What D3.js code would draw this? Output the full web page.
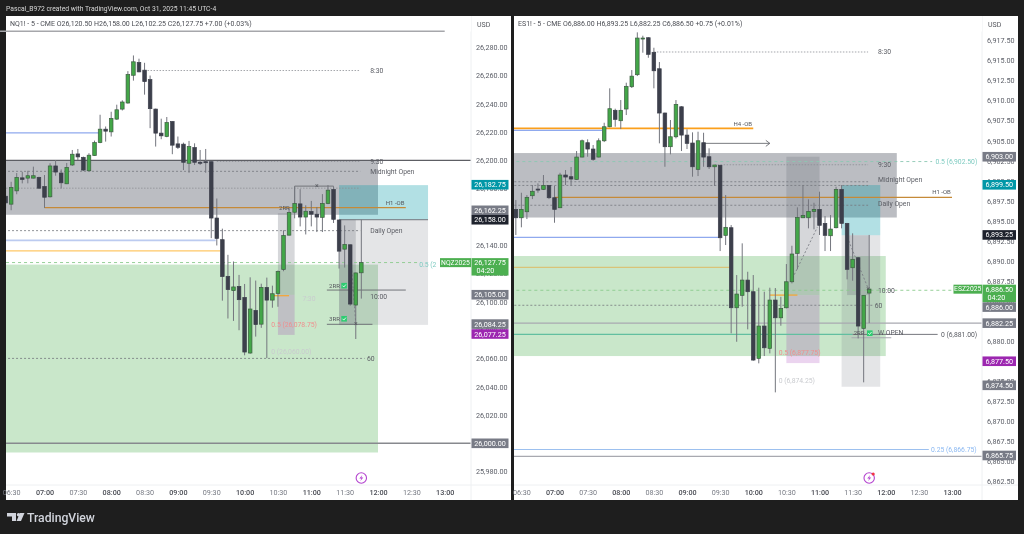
<!DOCTYPE html>
<html><head><meta charset="utf-8">
<script src="https://cdn.jsdelivr.net/npm/d3@7"></script>
<style>
html,body{margin:0;padding:0;background:#1e1e1e;overflow:hidden}
svg{display:block;filter:blur(.3px)}
text{font-family:Roboto,sans-serif}
</style></head><body>
<svg id="c" width="1024" height="534"></svg>
<script>
// ---------- data: NQ1! 5 minute candles, first bar 06:25 ----------
const nqOpen=[26174.6,26169,26178.4,26187.6,26187.4,26187.4,26187.9,26181.5,26174.2,26196,26191,26183.4,26196.7,26204.5,26202.1,26192.6,26203.3,26212.5,26222,26220.1,26229.1,26236.2,26240.5,26260.1,26269.1,26263.7,26257,26236.2,26219.2,26216.8,26227.4,26211.6,26211.4,26197.9,26209,26198.6,26199,26199,26159.2,26143.9,26118,26107.9,26110.9,26103.1,26063.8,26093.9,26084.2,26110.2,26101.2,26105.9,26122.8,26147.1,26163.3,26169.2,26159.9,26163.8,26161.9,26159.7,26169.5,26179.4,26157.8,26137.2,26140.3,26097.7,26120.5];
const nqHigh=[26178.9,26184.8,26191,26191.9,26192.6,26195.5,26188.4,26189.6,26197.9,26200.2,26193.6,26198.1,26207.3,26208,26202.6,26205,26213.9,26232.2,26223.9,26234.3,26239.3,26242.4,26263,26274.1,26271.8,26268.9,26259.9,26236.5,26229.4,26230.6,26227.6,26216.8,26212.5,26213.7,26212,26207.3,26208,26199.2,26173,26151.7,26133.2,26128.5,26119,26112.6,26117.3,26115,26112.8,26117.1,26111.4,26122.1,26150.5,26166.1,26181.2,26179.6,26168.2,26171.3,26167,26176.1,26182.5,26181.7,26158,26154,26140.5,26120.6,26158];
const nqLow=[26166.1,26164.7,26176,26183.7,26183.7,26187.2,26179.8,26166.3,26173.7,26189.1,26180.1,26183.2,26196,26200.2,26192.4,26192.4,26203.1,26212.1,26213.2,26216.8,26228.6,26235.2,26240,26256.3,26262.2,26246.4,26222.7,26209.7,26214.9,26216.3,26204.3,26208,26193.1,26191.2,26196.7,26196.7,26191.2,26145,26139.8,26100.8,26088.2,26086.5,26079.9,26062.2,26063.3,26075.4,26081.6,26060.2,26095.8,26096.5,26121.6,26146.9,26159,26153.3,26147.6,26153.3,26149.3,26149.3,26169,26155.7,26123.5,26124.2,26097.2,26073.7,26102.25];
const nqClose=[26169.9,26180.8,26187.9,26186.5,26189.1,26189.1,26180.3,26173.9,26196,26191.7,26184.1,26195,26204.3,26202.4,26193.1,26203.6,26212.5,26222,26220.6,26229.6,26235.7,26241.2,26260.6,26269.6,26262.5,26255.6,26236.5,26219.2,26217.3,26226.7,26210.7,26209.2,26198.6,26209.7,26198.6,26198.1,26198.6,26159.2,26144.8,26117.8,26108.6,26110.5,26101.5,26064.5,26094.9,26083.9,26110.2,26101.2,26105.7,26121.4,26146.9,26163.1,26169.5,26159.9,26164,26161.9,26159.9,26169.5,26178.9,26158.3,26135.8,26140.5,26098.4,26120.4,26127.75];

// ---------- data: ES1! 5 minute candles, first bar 06:25 ----------
const esOpen=[6896.44,6895.39,6896.14,6898.14,6898.97,6898.93,6899.43,6897.89,6896.64,6900.72,6900.51,6900.18,6902.96,6904.75,6903.96,6902.96,6904.99,6906.74,6908.79,6907.49,6908.95,6911.73,6913.23,6917.71,6917.84,6916.02,6913.97,6908.45,6904.25,6905.49,6909.23,6905.7,6904.71,6901.43,6904.75,6903,6901.75,6901.93,6893.2,6894.15,6884.17,6885.72,6887.62,6886.17,6877.86,6881.89,6879.11,6885.13,6882.92,6884.17,6887.41,6890.95,6895.39,6895.39,6896.19,6896.44,6894.69,6893.15,6894.15,6898.93,6894.69,6889.16,6890.41,6881.6,6886];
const esHigh=[6897.6,6898.51,6898.22,6899.47,6899.68,6900.72,6899.47,6899.38,6901,6901.34,6901.72,6903.71,6905.14,6905.17,6904.46,6905.29,6907.24,6911.53,6908.99,6910.07,6912.23,6913.81,6918.51,6918.09,6917.9,6916.59,6914.81,6908.5,6907.58,6910.07,6909.3,6906.42,6906.04,6906.12,6905.99,6904.05,6901.97,6902,6898.22,6894.48,6888.25,6892.2,6888.66,6888.25,6886.67,6886.17,6886.67,6886.63,6885.54,6889.62,6891.9,6896.69,6899.47,6897.69,6897.26,6898.64,6895.6,6895.73,6899.26,6899.47,6894.75,6893.45,6890.5,6885.75,6893.25];
const esLow=[6893.24,6894.2,6895.23,6897.72,6898.51,6898.85,6897.72,6894.77,6896.6,6899.47,6899.38,6900.14,6902.92,6903,6902.5,6902.92,6904.83,6906.67,6906.74,6906.45,6908.2,6911.57,6913.06,6915.97,6915.34,6911.53,6904.67,6901.75,6903.3,6905.29,6903.71,6903.96,6900.51,6900.59,6901.75,6901.47,6899.35,6891.24,6891.99,6880.98,6879.93,6884.3,6881.48,6877.56,6877.24,6878.15,6878.48,6873.62,6881.93,6884.09,6887.21,6888.96,6895.35,6894.07,6893.95,6893.24,6891.24,6891.24,6894.07,6894.07,6887.71,6887.54,6880.35,6874.87,6882.25];
const esClose=[6895.39,6896.44,6897.94,6898.69,6898.88,6899.43,6897.89,6896.44,6900.72,6900.47,6900.22,6902.96,6904.99,6903.96,6902.68,6904.99,6906.74,6908.99,6907.66,6908.79,6911.78,6913.05,6917.8,6917.8,6915.77,6913.72,6908.45,6904.25,6905.49,6909.53,6905.7,6904.67,6901.75,6904.99,6902.96,6901.75,6901.97,6892.9,6894.2,6884.17,6885.88,6887.62,6886.17,6877.65,6881.89,6879.18,6885.13,6882.92,6884.09,6887.41,6890.87,6895.44,6895.69,6896.19,6896.44,6894.45,6893.2,6893.98,6898.93,6894.69,6888.96,6890.21,6881.89,6885.72,6886.5];

// ---------- axes ----------
const timeTicks=[390,420,450,480,510,540,570,600,630,660,690,720,750,780];
const nqTicks=[26280,26260,26240,26220,26200,26180,26160,26140,26120,26100,26080,26060,26040,26020,26000,25980];
const esTicks=[6917.5,6915,6912.5,6910,6907.5,6905,6902.5,6900,6897.5,6895,6892.5,6890,6887.5,6885,6882.5,6880,6877.5,6875,6872.5,6870,6867.5,6865,6862.5];

// ---------- drawings: prices and minutes since midnight ----------
const nqZones=[
 [380,720,26200,26161.5,'grey'],[380,720,26126.3,25993.5,'green'],
 [630,645,26162.6,26105,'entry'],[630,645,26105,26076.6,'target'],
 [685,765,26182.45,26158,'blue'],[685,765,26158,26083.7,'light'],[685,700,26158,26083.7,'entry']];
const nqLines=[
 [26200,380,810,'dark'],[26263.45,510,704,'dot'],[26199.15,575,704,'dot'],
 [26192.2,380,704,'dash'],[26180.3,380,704,'dot'],[26150.3,380,704,'dash'],[26060,380,708,'dash'],
 [26000,380,810,'heavy'],[26219.4,380,470,'blue'],[26143.4,380,574,'bluewide'],[26136,380,578,'amber'],
 [26166.6,420,745,'ob'],[26127.75,380,757,'now'],[26104.3,625,640,'orange'],
 [26108.3,674,745,'thin'],[26084.1,674,715,'thin'],[26158,685,765,'thin']];
const nqPaths=[
 [[[645,26169],[645,26181.75],[680,26181.75]],'solid'],
 [[[695,26136.3],[700,26084.8]],'diag']];
const nqCrosses=[[665,26181.75],[700,26084.8]];
const nqLabels=[
 ['8:30',713,26263.45,'ink'],['9:30',713,26199.15,'ink'],['Midnight Open',713,26192.2,'ink'],['Daily Open',713,26150.3,'ink'],
 ['10:00',713,26103.6,'ink'],['60',710,26060,'ink'],['H1 -OB',727,26169.7,'small'],['2RR',631,26166,'small'],
 ['2RR',676,26111.4,'small'],['3RR',676,26088,'small'],['0.5 (26,078.75)',624,26083.7,'red'],
 ['0 (26,060.00)',624,26064.5,'pale'],['7:30',652,26102.2,'pale'],['0.5 (2',757,26126.3,'teal']];
const nqChecks=[[687,26111.4],[687,26088]];
const nqTags=[[26182.75,'teal'],[26162.25,'grey'],[26158,'black'],[26105,'grey'],[26084.25,'grey'],[26077.25,'purple'],[26000,'grey']];
const nqTagNudge={26162.25:-3.4};
const nqTopLevel=26291.25;

const esZones=[
 [380,730,6903.46,6895.42,'grey'],[380,720,6890.62,6878.15,'green'],
 [630,660,6903,6885.75,'entry'],[630,660,6885.75,6877.27,'target'],
 [680,715,6899.47,6893.21,'blue'],[680,715,6893.21,6874.32,'light'],[685,705,6893.21,6885.75,'entry']];
const esLines=[
 [6906.54,380,600,'orangewide'],[6906.29,380,463,'blue'],[6916.06,510,704,'dot'],[6902,565,704,'dot'],
 [6902.4,380,762,'tealdash'],[6899.88,380,704,'dash'],[6899.42,380,704,'dash'],[6897.94,420,780,'ob'],
 [6896.95,380,704,'dash'],[6892.95,380,570,'blue'],[6889.21,380,579,'paleamber'],[6886.35,380,780,'now'],
 [6885.75,615,640,'orange'],[6884.48,380,708,'dash'],[6882.25,380,810,'soft'],[6880.85,380,690,'tealsolid'],
 [6880.85,690,767,'thin'],[6880.43,689,725,'soft'],[6866.5,380,759,'paleblue'],[6865.64,380,810,'soft']];
const esPaths=[
 [[[554.5,6904.67],[615,6904.67]],'arrow'],
 [[[634,6887.4],[658,6894.2]],'diag'],
 [[[685,6893],[704,6886.6]],'diag']];
const esCrosses=[[704,6886.6]];
const esLabels=[
 ['8:30',713,6916.06,'ink'],['9:30',713,6902,'ink'],['Midnight Open',713,6900.1,'ink'],['Daily Open',713,6897.1,'ink'],
 ['10:00',713,6886.25,'ink'],['60',710,6884.48,'ink'],['W OPEN',713,6881,'ink'],['0 (6,881.00)',770,6880.85,'ink'],
 ['H4 -OB',582,6907.1,'small'],['H1 -OB',762,6898.6,'small'],['0.5 (6,902.50)',765,6902.4,'teal'],
 ['0.25 (6,866.75)',761,6866.5,'bluetext'],['0.5 (6,877.75)',623,6878.52,'red'],['0 (6,874.25)',623,6875.03,'pale'],['2RR',691,6881,'small']];
const esChecks=[[703,6881]];
const esTags=[[6903,'grey'],[6899.5,'teal'],[6893.25,'black'],[6886,'grey'],[6882.25,'grey'],[6877.5,'purple'],[6874.5,'grey'],[6865.75,'grey']];
const esTagNudge={6886:14};

// ---------- styles ----------
const zoneFill={grey:'rgba(120,123,134,.5)',green:'rgba(76,175,80,.3)',entry:'rgba(120,123,134,.3)',target:'rgba(156,39,176,.2)',blue:'rgba(0,151,167,.3)',light:'rgba(120,123,134,.2)'};
const lineStyle={
 dark:['#5d5e64',1.2],dot:['#8d8f95',.8,'1.5 1.5'],dash:['#75777d',.8,'2 2'],heavy:['#87898e',1.4],
 blue:['#8fa9ee',1.1],bluewide:['#bccbf0',1.8],amber:['#ffc766',1.2],ob:['#c58a38',1.3],now:['#8bcb8d',.9,'3 3'],
 orange:['#f7a42e',1.2],thin:['#66686e',.9],orangewide:['#fb9f1c',1.6],tealdash:['#8bc7b2',.9,'3 3'],
 paleamber:['#d9c378',1.2],soft:['#a8a9b0',1.1],tealsolid:['#62bfa0',1.1],paleblue:['#9cc0ef',1.1]};
const labelColor={ink:'#5b5d64',small:'#55575d',red:'#ef8f8f',pale:'#c9cbcf',teal:'#7fcbc1',bluetext:'#8cb9f2'};
const tagFill={teal:'#0097a7',grey:'#787b86',black:'#1e222d',purple:'#9c27b0',green:'#4caf50'};
const up='#43a648',down='#3c3f4b',edge='#3d5d42',wick='#74767e';

const svg=d3.select('#c');
svg.append('text').attr('x',6).attr('y',10.5).attr('fill','#d8d8d8').attr('font-size',6.75)
 .text('Pascal_B972 created with TradingView.com, Oct 31, 2025 11:45 UTC-4');

function chart(c){
 const g=svg.append('g');
 g.append('rect').attr('x',c.left).attr('y',16).attr('width',c.right-c.left).attr('height',484).attr('fill','#fff');
 const x=d3.scaleLinear().domain([420,780]).range(c.xRange);
 const y=d3.scaleLinear().domain(c.yDomain).range(c.yRange);
 const id='clip'+c.left;
 g.append('clipPath').attr('id',id).append('rect').attr('x',c.left).attr('y',16).attr('width',c.axisX-c.left).attr('height',469);
 const plot=g.append('g').attr('clip-path',`url(#${id})`);

 plot.selectAll('.z').data(c.zones).join('rect')
  .attr('x',d=>x(d[0])).attr('width',d=>x(d[1])-x(d[0]))
  .attr('y',d=>y(d[2])).attr('height',d=>y(d[3])-y(d[2]))
  .attr('fill',d=>zoneFill[d[4]]);

 plot.selectAll('.l').data(c.lines).join('line')
  .attr('x1',d=>x(d[1])).attr('x2',d=>x(d[2]))
  .attr('y1',d=>y(d[0])).attr('y2',d=>y(d[0]))
  .attr('stroke',d=>lineStyle[d[3]][0]).attr('stroke-width',d=>lineStyle[d[3]][1])
  .attr('stroke-dasharray',d=>lineStyle[d[3]][2]||null);

 const ln=d3.line().x(d=>x(d[0])).y(d=>y(d[1]));
 plot.selectAll('.p').data(c.paths).join('path').attr('d',d=>ln(d[0])).attr('fill','none')
  .attr('stroke',d=>d[1]=='diag'?'#7b7d84':'#6a6c72').attr('stroke-width',.9)
  .attr('stroke-dasharray',d=>d[1]=='diag'?'2 2':null);
 c.paths.filter(d=>d[1]=='arrow').forEach(d=>{
  const e=d[0][d[0].length-1],ex=x(e[0]),ey=y(e[1]);
  plot.append('path').attr('d',`M${ex-4},${ey-3}L${ex},${ey}L${ex-4},${ey+3}`).attr('fill','none').attr('stroke','#6a6c72').attr('stroke-width',.9);
 });

 const bars=d3.range(c.open.length).map(i=>({m:385+5*i,o:c.open[i],h:c.high[i],l:c.low[i],c:c.close[i]}));
 plot.selectAll('.w').data(bars).join('line')
  .attr('x1',d=>x(d.m)).attr('x2',d=>x(d.m)).attr('y1',d=>y(d.h)).attr('y2',d=>y(d.l))
  .attr('stroke',wick).attr('stroke-width',1);
 plot.selectAll('.b').data(bars).join('rect')
  .attr('x',d=>x(d.m)-1.8).attr('width',3.6)
  .attr('y',d=>y(Math.max(d.o,d.c))).attr('height',d=>Math.max(1,Math.abs(y(d.o)-y(d.c))))
  .attr('fill',d=>d.c>=d.o?up:down).attr('stroke',d=>d.c>=d.o?edge:down).attr('stroke-width',.7);

 plot.selectAll('.x').data(c.crosses).join('text').attr('x',d=>x(d[0])).attr('y',d=>y(d[1])).attr('dy','.32em')
  .attr('text-anchor','middle').attr('font-size',7).attr('fill','#55575d').text('×');

 plot.selectAll('.t').data(c.labels).join('text').attr('x',d=>x(d[1])).attr('y',d=>y(d[2])).attr('dy','.34em')
  .attr('font-size',d=>d[3]=='small'?6:6.8).attr('fill',d=>labelColor[d[3]]).text(d=>d[0]);

 const chk=plot.selectAll('.k').data(c.checks).join('g').attr('transform',d=>`translate(${x(d[0])},${y(d[1])})`);
 chk.append('rect').attr('x',0).attr('y',-2.8).attr('width',5.6).attr('height',5.6).attr('fill','#2ecc71');
 chk.append('path').attr('d','M1.2,0L2.5,1.3L4.6,-1.2').attr('fill','none').attr('stroke','#fff').attr('stroke-width',.8);

 // axes
 g.append('line').attr('x1',c.axisX).attr('x2',c.axisX).attr('y1',16).attr('y2',500).attr('stroke','#eef0f2');
 g.append('line').attr('x1',c.left).attr('x2',c.right).attr('y1',485).attr('y2',485).attr('stroke','#eef0f2');

 const ya=g.append('g').attr('transform',`translate(${c.axisX},0)`)
  .call(d3.axisRight(y).tickValues(c.yTicks).tickSize(0).tickPadding(c.pad).tickFormat(d3.format(',.2f')));
 ya.select('.domain').remove();
 ya.selectAll('text').attr('font-size',7.2).attr('font-family','Roboto,sans-serif').attr('fill','#5a5d66');

 const xa=g.append('g').attr('transform','translate(0,485)')
  .call(d3.axisBottom(x).tickValues(c.tTicks).tickSize(0).tickPadding(5)
   .tickFormat(m=>d3.format('02')(Math.floor(m/60))+':'+d3.format('02')(m%60)));
 xa.select('.domain').remove();
 xa.selectAll('text').attr('font-size',7.2).attr('font-family','Roboto,sans-serif')
  .attr('fill',m=>m%60?'#777a83':'#4a4c54').attr('font-weight',m=>m%60?400:500);

 // header
 g.append('rect').attr('x',c.left).attr('y',16).attr('width',c.axisX-c.left).attr('height',15.5).attr('fill','#fff');
 g.append('text').attr('x',c.left+4).attr('y',26).attr('font-size',7).attr('fill','#4a4c53').text(c.title);
 g.append('text').attr('x',c.axisX+6).attr('y',27).attr('font-size',7).attr('fill','#55575d').text('USD');
 if(c.topLine) g.append('line').attr('x1',x(380)).attr('x2',x(780)).attr('y1',y(c.topLine)).attr('y2',y(c.topLine)).attr('stroke','#a6a7ab').attr('stroke-width',1.6);

 // price tags
 const tag=g.selectAll('.tag').data(c.tags).join('g').attr('transform',d=>`translate(${c.axisX+.5},${y(d[0])+(c.nudge[d[0]]||0)})`);
 tag.append('rect').attr('x',0).attr('y',-4.8).attr('width',c.tagW).attr('height',9.6).attr('fill',d=>tagFill[d[1]]);
 tag.append('text').attr('x',c.tagW/2).attr('dy','.35em').attr('text-anchor','middle').attr('font-size',7.2).attr('fill','#fff').text(d=>d3.format(',.2f')(d[0]));

 const ly=y(c.last);
 g.append('rect').attr('x',c.axisX-c.nameW).attr('y',ly-4.4).attr('width',c.nameW).attr('height',9).attr('fill',tagFill.green);
 g.append('text').attr('x',c.axisX-c.nameW/2).attr('y',ly).attr('dy','.35em').attr('text-anchor','middle').attr('font-size',6.8).attr('fill','#fff').text(c.contract);
 g.append('rect').attr('x',c.axisX+.5).attr('y',ly-4.4).attr('width',c.tagW).attr('height',17.4).attr('fill',tagFill.green);
 g.append('text').attr('x',c.axisX+.5+c.tagW/2).attr('y',ly).attr('dy','.35em').attr('text-anchor','middle').attr('font-size',7.2).attr('fill','#fff').text(d3.format(',.2f')(c.last));
 g.append('text').attr('x',c.axisX+c.pad+.5).attr('y',ly+8.4).attr('dy','.35em').attr('font-size',7.2).attr('fill','#fff').text('04:20');

 // session-break icon
 const b=g.append('g').attr('transform',`translate(${x(c.iconM)},478)`);
 b.append('circle').attr('r',5.2).attr('fill','#fff').attr('stroke','#b444cf').attr('stroke-width',1.1);
 b.append('path').attr('d','M1,-3L-2,.5H0L-1,3L2,-.5H0Z').attr('fill','#b444cf');
 if(c.iconDot) b.append('circle').attr('cx',4).attr('cy',-4).attr('r',1.6).attr('fill','#f23645');
}

chart({left:6,right:511,axisX:471,xRange:[44.5,444.7],yDomain:[26200,26000],yRange:[160.3,443.3],pad:5,tagW:37,
 open:nqOpen,high:nqHigh,low:nqLow,close:nqClose,zones:nqZones,lines:nqLines,paths:nqPaths,crosses:nqCrosses,labels:nqLabels,checks:nqChecks,
 tags:nqTags,nudge:nqTagNudge,yTicks:nqTicks,tTicks:timeTicks,last:26127.75,contract:'NQZ2025',nameW:31,iconM:705,iconDot:false,topLine:nqTopLevel,
 title:'NQ1! - 5 - CME  O26,120.50  H26,158.00  L26,102.25  C26,127.75  +7.00 (+0.03%)'});
chart({left:514,right:1018,axisX:982,xRange:[554.5,952],yDomain:[6890,6870],yRange:[261,421.4],pad:5,tagW:33.5,
 open:esOpen,high:esHigh,low:esLow,close:esClose,zones:esZones,lines:esLines,paths:esPaths,crosses:esCrosses,labels:esLabels,checks:esChecks,
 tags:esTags,nudge:esTagNudge,yTicks:esTicks,tTicks:timeTicks,last:6886.5,contract:'ESZ2025',nameW:28.5,iconM:705,iconDot:true,
 title:'ES1! - 5 - CME  O6,886.00  H6,893.25  L6,882.25  C6,886.50  +0.75 (+0.01%)'});

// TradingView mark
const logo=svg.append('g').attr('fill','#d1d4dc');
logo.append('path').attr('d','M7,513H16V521H12V516.5H7Z');
logo.append('circle').attr('cx',18.6).attr('cy',514.8).attr('r',1.8);
logo.append('path').attr('d','M20,513H24.5L21,521H16.5Z');
svg.append('text').attr('x',27).attr('y',521.5).attr('fill','#d1d4dc').attr('font-size',12.2).attr('font-weight',500).attr('font-family','Inter,Roboto,sans-serif').text('TradingView');
</script>
</body></html>
